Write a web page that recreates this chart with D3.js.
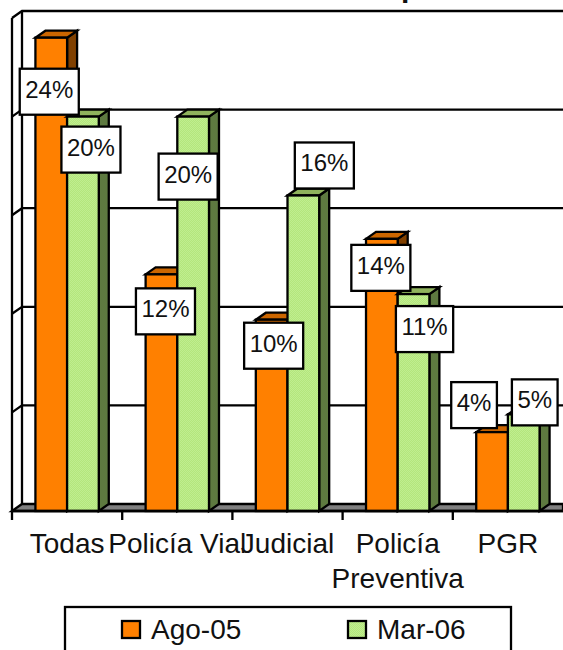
<!DOCTYPE html>
<html>
<head>
<meta charset="utf-8">
<script src="https://cdn.jsdelivr.net/npm/d3@7"></script>
<style>
    html, body { margin: 0; padding: 0; background: #fff; overflow: hidden; }
    svg { display: block; }
    text { font-family: "Liberation Sans", Arial, sans-serif; fill: #111; }
</style>
</head>
<body>
<script>
const categories = ['Todas', 'Policía Vial', 'Judicial', 'Policía\nPreventiva', 'PGR'];
const seriesNames = ['Ago-05', 'Mar-06'];
const ago05 = [24, 12, 9.7, 13.8, 4];
const mar06 = [20, 20, 16, 11, 4.9];
const yTicks = [0, 5, 10, 15, 20, 25];

// labels were dragged by hand in the original chart, so each one has its own offset
const ago05Nudge = [[-2, 54], [4, 37], [2, 26], [-1, 29], [-18, -27]];
const mar06Nudge = [[8, 33], [-5, 60], [21, -30], [11, 35], [11, -12]];

const svgW = 563, svgH = 650;
const depthX = 10, depthY = 7;
const left = 12, right = 563, floorY = 511;
const strokeW = 2.3;

const colors = {
    'Ago-05': { front: '#ff8000', top: '#cc6600', side: '#804000' },
    'Mar-06': { front: 'url(#dither)', top: '#8fb35c', side: '#5e7a40' }
};

const svg = d3.select('body')
    .append('svg')
    .attr('width', svgW)
    .attr('height', svgH);

const dither = svg.append('defs').append('pattern')
    .attr('id', 'dither')
    .attr('width', 2).attr('height', 2)
    .attr('patternUnits', 'userSpaceOnUse');
dither.append('rect').attr('width', 2).attr('height', 2).attr('fill', '#b4e67c');
dither.append('rect').attr('width', 1).attr('height', 1).attr('fill', '#c0ee90');
dither.append('rect').attr('x', 1).attr('y', 1).attr('width', 1).attr('height', 1).attr('fill', '#c0ee90');

const xScale = d3.scaleBand().domain(categories).range([left, right]);
const groupScale = d3.scaleBand()
    .domain(seriesNames)
    .range([xScale.bandwidth() * 0.2125, xScale.bandwidth() * 0.7875]);
const yScale = d3.scaleLinear().domain([0, 25]).range([floorY, 18]);

// title is cut off by the top of the picture, only the tail of one letter shows
svg.append('text')
    .attr('x', 401)
    .attr('y', -3.3)
    .attr('font-size', 30)
    .attr('font-weight', 'bold')
    .text('p');

// side wall and grid
const lineStyle = sel => sel.attr('stroke', '#000').attr('stroke-width', strokeW).attr('fill', 'none');

svg.selectAll('.grid')
    .data(yTicks.slice(1))
    .enter()
    .append('path')
    .attr('class', 'grid')
    .attr('d', d => `M${left},${yScale(d)}L${left + depthX},${yScale(d) - depthY}H${right}`)
    .call(lineStyle);

svg.append('path')
    .attr('d', `M${left},${yScale(25)}V${floorY}M${left + depthX},${yScale(25) - depthY}V${floorY - depthY}`)
    .call(lineStyle);

// floor
svg.append('path')
    .attr('d', `M${left},${floorY}L${left + depthX},${floorY - depthY}H${right}V${floorY}Z`)
    .call(lineStyle)
    .attr('fill', '#808080');

// bars
const seriesData = [
    { name: 'Ago-05', values: ago05, nudge: ago05Nudge },
    { name: 'Mar-06', values: mar06, nudge: mar06Nudge }
];

const barRows = categories.flatMap((c, i) => seriesData.map(s => ({
    category: c,
    series: s.name,
    value: s.values[i],
    nudge: s.nudge[i]
})));

const barX = d => xScale(d.category) + groupScale(d.series);
const bars = svg.selectAll('.bar')
    .data(barRows)
    .enter()
    .append('g')
    .attr('class', 'bar')
    .attr('stroke', '#000')
    .attr('stroke-width', strokeW)
    .attr('stroke-linejoin', 'miter');

bars.append('path')
    .attr('fill', d => colors[d.series].side)
    .attr('d', d => {
        const x = barX(d) + groupScale.bandwidth(), y = yScale(d.value);
        return `M${x},${y}l${depthX},${-depthY}V${floorY - depthY}l${-depthX},${depthY}Z`;
    });

bars.append('path')
    .attr('fill', d => colors[d.series].top)
    .attr('d', d => {
        const w = groupScale.bandwidth();
        return `M${barX(d)},${yScale(d.value)}l${depthX},${-depthY}h${w}l${-depthX},${depthY}Z`;
    });

bars.append('rect')
    .attr('x', barX)
    .attr('y', d => yScale(d.value))
    .attr('width', groupScale.bandwidth())
    .attr('height', d => floorY - yScale(d.value))
    .attr('fill', d => colors[d.series].front);

svg.append('line')
    .attr('x1', left).attr('x2', right)
    .attr('y1', floorY).attr('y2', floorY)
    .call(lineStyle);

// x axis, ticks sit between the categories
const xAxis = d3.axisBottom(xScale).tickSize(0).tickPadding(0).tickFormat('');
const axisG = svg.append('g')
    .attr('transform', `translate(0, ${floorY})`)
    .call(xAxis);
axisG.select('.domain').remove();

axisG.selectAll('.tick text')
    .attr('font-size', 28)
    .attr('y', 0)
    .attr('dy', 0)
    .style('font-family', '"Liberation Sans", Arial, sans-serif')
    .attr('fill', '#111')
    .each(function (d) {
        d3.select(this).selectAll('tspan')
            .data(d.split('\n'))
            .enter()
            .append('tspan')
            .attr('x', 0)
            .attr('y', (t, i) => 42 + i * 35)
            .text(t => t);
    });

svg.selectAll('.x-tick')
    .data(categories)
    .enter()
    .append('line')
    .attr('class', 'x-tick')
    .attr('x1', d => xScale(d))
    .attr('x2', d => xScale(d))
    .attr('y1', floorY)
    .attr('y2', floorY + 9)
    .call(lineStyle);

// value labels
const labels = svg.selectAll('.value-label')
    .data(barRows)
    .enter()
    .append('g')
    .attr('class', 'value-label')
    .attr('transform', d => {
        const cx = barX(d) + groupScale.bandwidth() / 2 + d.nudge[0];
        return `translate(${cx}, ${yScale(d.value) + d.nudge[1]})`;
    });

const labelRects = labels.append('rect')
    .attr('fill', '#fff')
    .attr('stroke', '#000')
    .attr('stroke-width', strokeW);

labels.append('text')
    .attr('text-anchor', 'middle')
    .attr('y', 6)
    .attr('font-size', 24)
    .text(d => `${Math.round(d.value)}%`);

labelRects.each(function () {
    const w = this.parentNode.querySelector('text').getComputedTextLength() + 11;
    d3.select(this)
        .attr('x', -w / 2)
        .attr('y', -23)
        .attr('width', w)
        .attr('height', 46);
});

// legend, its bottom edge falls outside the picture
svg.append('rect')
    .attr('x', 65).attr('y', 607)
    .attr('width', 446).attr('height', 60)
    .call(lineStyle);

const legendX = d3.scalePoint().domain(seriesNames).range([122, 348]);
const legend = svg.selectAll('.legend-item')
    .data(seriesNames)
    .enter()
    .append('g')
    .attr('class', 'legend-item')
    .attr('transform', d => `translate(${legendX(d)}, 621)`);

legend.append('rect')
    .attr('width', 18)
    .attr('height', 17)
    .attr('fill', d => colors[d].front)
    .attr('stroke', '#000')
    .attr('stroke-width', strokeW);

legend.append('text')
    .attr('x', 29)
    .attr('y', 18)
    .attr('font-size', 28)
    .text(d => d);
</script>
</body>
</html>
